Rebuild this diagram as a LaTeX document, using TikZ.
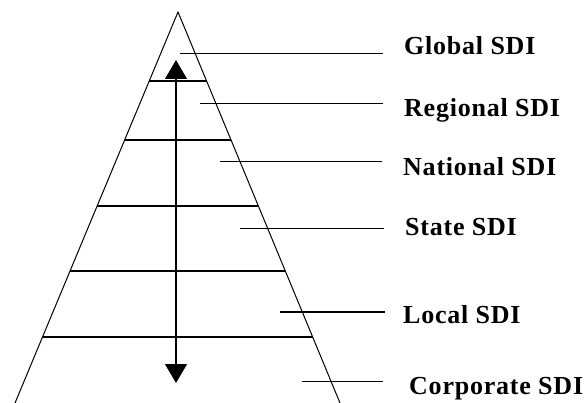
\documentclass[tikz,border=0pt]{standalone}
\usepackage{fontspec}
\newfontfamily\sdifont[LetterSpace=3]{Liberation Serif}
\usetikzlibrary{arrows.meta,calc}

\begin{document}
\begin{tikzpicture}[x=1pt, y=-1pt,
    edge/.style={line width=1pt, line join=round},
    layer/.style={line width=1.2pt},
    pointer/.style={line width=1pt, shorten >=21pt},
    lbl/.style={font=\sdifont\bfseries\fontsize{26}{28}\selectfont, anchor=base west, inner sep=0pt},
    updown/.style={line width=1.2pt, {Triangle[width=22pt,length=19pt]}-{Triangle[width=22pt,length=19pt]}}
]
    \useasboundingbox (0,0) rectangle (588,403);

    % Pyramid outline (base runs below the frame)
    \coordinate (apex) at (178,12);
    \coordinate (bl) at (15,403);
    \coordinate (br) at (340,403);
    \draw[edge] (bl) -- (apex) -- (br);

    % Layer lines
    \foreach \ly [evaluate=\ly as \t using (\ly-12)/391] in {81,140,206,271,337} {
        \draw[layer] ($(apex)!\t!(bl)$) -- ($(apex)!\t!(br)$);
    }

    % Double arrow
    \coordinate (top) at (176,60);
    \coordinate (bot) at (176,383);
    \draw[updown] (bot) -- (top);

    % Labels
    \node[lbl] (glob) at (404,55) {Global SDI};
    \node[lbl] (regi) at (404,117) {Regional SDI};
    \node[lbl] (natl) at (403,176) {National SDI};
    \node[lbl] (stat) at (405,236) {State SDI};
    \node[lbl] (locl) at (403,323) {Local SDI};
    \node[lbl] (corp) at (409,394) {Corporate SDI};

    % Pointers
    \coordinate (gp) at (180,54);
    \coordinate (rp) at (200,104);
    \coordinate (np) at (220,162);
    \coordinate (sp) at (240,228);
    \coordinate (lp) at (280,312);
    \coordinate (cp) at (302,381);
    \draw[pointer] (gp) -- (gp -| glob.west);
    \draw[pointer] (rp) -- (rp -| regi.west);
    \draw[pointer] (np) -- (np -| natl.west);
    \draw[pointer] (sp) -- (sp -| stat.west);
    \draw[pointer, line width=2.2pt, shorten >=18pt] (lp) -- (lp -| locl.west);
    \draw[pointer, shorten >=26pt] (cp) -- (cp -| corp.west);

\end{tikzpicture}
\end{document}
